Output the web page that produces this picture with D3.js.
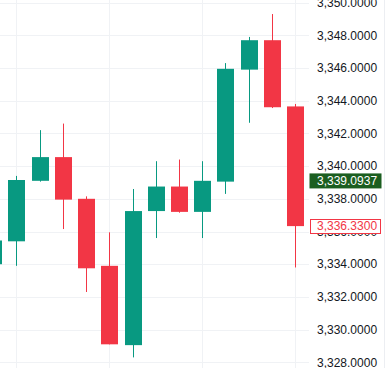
<!DOCTYPE html>
<html><head><meta charset="utf-8">
<script src="https://cdn.jsdelivr.net/npm/d3@7"></script>
<style>html,body{margin:0;padding:0;background:#fff;overflow:hidden}</style>
</head><body><svg id="c" width="388" height="368"></svg>
<script>
const categories = ["c0","c1","c2","c3","c4","c5","c6","c7","c8","c9","c10","c11","c12","c13"];
const openVals  = [3334.00,3335.40,3339.10,3340.55,3338.00,3333.90,3329.05,3337.25,3338.75,3337.20,3339.05,3345.90,3347.70,3343.65];
const highVals  = [3336.00,3339.40,3342.20,3342.60,3338.15,3335.95,3338.60,3340.30,3340.40,3340.30,3346.30,3347.90,3349.30,3343.80];
const lowVals   = [3333.50,3333.90,3339.05,3336.15,3332.30,3329.10,3328.30,3335.60,3337.15,3335.60,3338.30,3342.65,3343.55,3333.80];
const closeVals = [3335.45,3339.15,3340.55,3337.95,3333.75,3329.10,3337.25,3338.75,3337.20,3339.10,3345.95,3347.70,3343.60,3336.33];
const yTicks = [3328,3330,3332,3334,3336,3338,3340,3342,3344,3346,3348,3350];
const vGridCats = ["c1","c5","c9","c13"];
const markers = [
  {value: 3339.0937, label: "3,339.0937", kind: "fill"},
  {value: 3336.33,   label: "3,336.3300", kind: "outline"}
];

const svg = d3.select("#c");
const W = 388, H = 368, plotRight = 309;
const x = d3.scalePoint().domain(categories).range([-6.8, 295.1]);
const y = d3.scaleLinear().domain([3328, 3350]).range([362.3, 2.6]);
const up = "#089981", down = "#F23645";
const fmt = d3.format(",.4f");
const bodyW = 17;

// grid
const g = svg.append("g");
g.selectAll(".hg").data(yTicks).join("line")
  .attr("x1", 0).attr("x2", plotRight)
  .attr("y1", d => Math.round(y(d)) + 0.5).attr("y2", d => Math.round(y(d)) + 0.5)
  .attr("stroke", "#f0f2f5").attr("stroke-width", 1);
g.selectAll(".vg").data(vGridCats).join("line")
  .attr("x1", d => Math.round(x(d)) + 0.5).attr("x2", d => Math.round(x(d)) + 0.5)
  .attr("y1", 0).attr("y2", H)
  .attr("stroke", "#f0f2f5").attr("stroke-width", 1);

// candles
const data = categories.map((c, i) => ({c, o: openVals[i], h: highVals[i], l: lowVals[i], cl: closeVals[i]}));
const cg = svg.append("g");
cg.selectAll(".wick").data(data).join("line")
  .attr("x1", d => Math.round(x(d.c)) + 0.5).attr("x2", d => Math.round(x(d.c)) + 0.5)
  .attr("y1", d => y(d.h)).attr("y2", d => y(d.l))
  .attr("stroke", d => d.cl >= d.o ? up : down).attr("stroke-width", 1);
cg.selectAll(".body").data(data).join("rect")
  .attr("x", d => Math.round(x(d.c)) + 0.5 - bodyW / 2)
  .attr("width", bodyW)
  .attr("y", d => y(Math.max(d.o, d.cl)))
  .attr("height", d => Math.max(1, Math.abs(y(d.o) - y(d.cl))))
  .attr("fill", d => d.cl >= d.o ? up : down);

// axis labels
const ax = svg.append("g").attr("font-family", "'Liberation Sans', Arial, sans-serif").attr("font-size", 12);
ax.selectAll("text").data(yTicks).join("text")
  .attr("x", 317).attr("y", d => y(d)).attr("dy", "0.35em")
  .attr("fill", "#131722").text(d => fmt(d));

// border line at far right
svg.append("line").attr("x1", 384.5).attr("x2", 384.5).attr("y1", 0).attr("y2", H)
  .attr("stroke", "#eceef2");

// markers
const mg = svg.append("g").attr("font-family", "'Liberation Sans', Arial, sans-serif").attr("font-size", 12);
markers.forEach(m => {
  const cy = y(m.value);
  if (m.kind === "fill") {
    mg.append("rect").attr("x", 309.5).attr("y", cy - 7.5).attr("width", 72).attr("height", 15)
      .attr("fill", "#1B5E20");
    mg.append("text").attr("x", 317).attr("y", cy).attr("dy", "0.35em").attr("fill", "#fff").text(m.label);
  } else {
    mg.append("rect").attr("x", 310.5).attr("y", Math.round(cy - 7) + 0.5).attr("width", 70).attr("height", 14)
      .attr("fill", "#fff").attr("stroke", down).attr("stroke-width", 1);
    mg.append("text").attr("x", 317).attr("y", cy).attr("dy", "0.35em").attr("fill", down).text(m.label);
  }
});
</script>
</body></html>
